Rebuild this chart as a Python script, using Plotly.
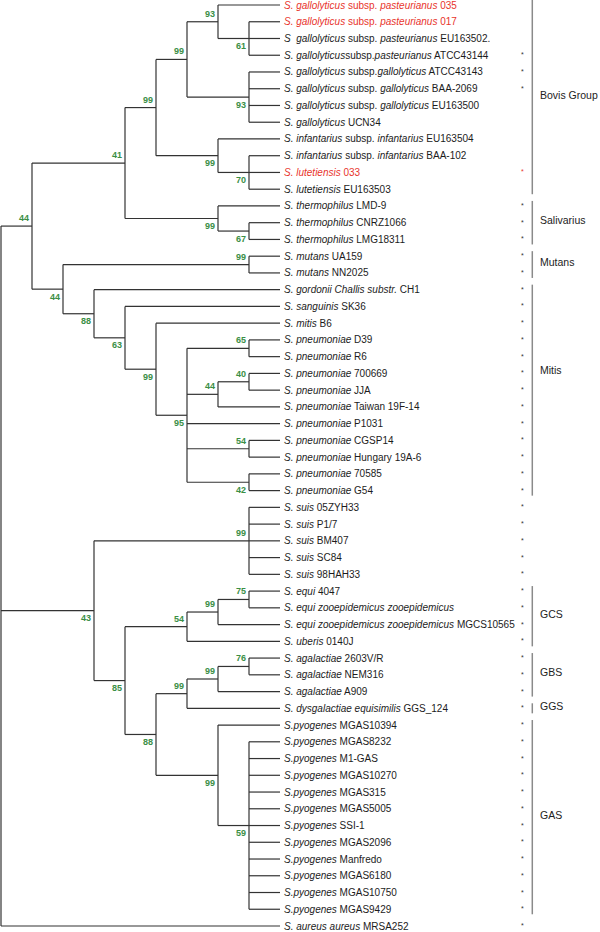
import plotly.graph_objects as go

# ---------------- DATA ----------------
leaf_labels = [
    "<i>S. gallolyticus</i> subsp. <i>pasteurianus</i> 035",
    "<i>S. gallolyticus</i> subsp. <i>pasteurianus</i> 017",
    "<i>S\u00a0 gallolyticus</i> subsp. <i>pasteurianus</i> EU163502.",
    "<i>S. gallolyticus</i>subsp.<i>pasteurianus</i> ATCC43144",
    "<i>S. gallolyticus</i> subsp.<i>gallolyticus</i> ATCC43143",
    "<i>S. gallolyticus</i> subsp. <i>gallolyticus</i> BAA-2069",
    "<i>S. gallolyticus</i> subsp. <i>gallolyticus</i> EU163500",
    "<i>S. gallolyticus</i> UCN34",
    "<i>S. infantarius</i> subsp. <i>infantarius</i> EU163504",
    "<i>S. infantarius</i> subsp. <i>infantarius</i> BAA-102",
    "<i>S. lutetiensis</i> 033",
    "<i>S. lutetiensis</i> EU163503",
    "<i>S. thermophilus</i> LMD-9",
    "<i>S. thermophilus</i> CNRZ1066",
    "<i>S. thermophilus</i> LMG18311",
    "<i>S. mutans</i> UA159",
    "<i>S. mutans</i> NN2025",
    "<i>S. gordonii Challis substr.</i> CH1",
    "<i>S. sanguinis</i> SK36",
    "<i>S. mitis</i> B6",
    "<i>S. pneumoniae</i> D39",
    "<i>S. pneumoniae</i> R6",
    "<i>S. pneumoniae</i> 700669",
    "<i>S. pneumoniae</i> JJA",
    "<i>S. pneumoniae</i> Taiwan 19F-14",
    "<i>S. pneumoniae</i> P1031",
    "<i>S. pneumoniae</i> CGSP14",
    "<i>S. pneumoniae</i> Hungary 19A-6",
    "<i>S. pneumoniae</i> 70585",
    "<i>S. pneumoniae</i> G54",
    "<i>S. suis</i> 05ZYH33",
    "<i>S. suis</i> P1/7",
    "<i>S. suis</i> BM407",
    "<i>S. suis</i> SC84",
    "<i>S. suis</i> 98HAH33",
    "<i>S. equi</i> 4047",
    "<i>S. equi zooepidemicus zooepidemicus</i>",
    "<i>S. equi zooepidemicus zooepidemicus</i> MGCS10565",
    "<i>S. uberis</i> 0140J",
    "<i>S. agalactiae</i> 2603V/R",
    "<i>S. agalactiae</i> NEM316",
    "<i>S. agalactiae</i> A909",
    "<i>S. dysgalactiae equisimilis</i> GGS_124",
    "<i>S.pyogenes</i> MGAS10394",
    "<i>S.pyogenes</i> MGAS8232",
    "<i>S.pyogenes</i> M1-GAS",
    "<i>S.pyogenes</i> MGAS10270",
    "<i>S.pyogenes</i> MGAS315",
    "<i>S.pyogenes</i> MGAS5005",
    "<i>S.pyogenes</i> SSI-1",
    "<i>S.pyogenes</i> MGAS2096",
    "<i>S.pyogenes</i> Manfredo",
    "<i>S.pyogenes</i> MGAS6180",
    "<i>S.pyogenes</i> MGAS10750",
    "<i>S.pyogenes</i> MGAS9429",
    "<i>S. aureus aureus</i> MRSA252",
]

# isolates from this study (highlighted in red)
highlighted = [0, 1, 10]
# leaves marked with an asterisk
asterisk_leaves = [3, 4, 5, 10] + list(range(12, 56))

# tree: (bootstrap, [children]); leaves are indices into leaf_labels
tree = (None, [
    (44, [
        (41, [
            (99, [
                (99, [
                    (93, [0, (61, [1, 2, 3])]),
                    (93, [4, 5, 6, 7]),
                ]),
                (99, [8, (70, [9, 10, 11])]),
            ]),
            (99, [12, (67, [13, 14])]),
        ]),
        (44, [
            (99, [15, 16]),
            (88, [17, (63, [18, (99, [19, (95, [
                (65, [20, 21]),
                (44, [(40, [22, 23]), 24]),
                25,
                (54, [26, 27]),
                (42, [28, 29]),
            ])])])]),
        ]),
    ]),
    (43, [
        (99, [30, 31, 32, 33, 34]),
        (85, [
            (54, [(99, [(75, [35, 36]), 37]), 38]),
            (88, [
                (99, [(99, [(76, [39, 40]), 41]), 42]),
                (99, [43, (59, list(range(44, 55)))]),
            ]),
        ]),
    ]),
    55,
])

group_names = ["Bovis Group", "Salivarius", "Mutans", "Mitis", "GCS", "GBS", "GGS", "GAS"]
group_first = [0, 12, 15, 17, 35, 39, 42, 43]
group_last = [11, 14, 16, 29, 38, 41, 42, 54]

# ---------------- LAYOUT OF THE TREE ----------------
segs_x, segs_y = [], []
boot = []  # (x, y, value, below)


def height(node):
    if isinstance(node, int):
        return 0
    return 1 + max(height(c) for c in node[1])


def layout(node, parent_is_root=False, is_first=True, is_last=False):
    if isinstance(node, int):
        return 9.0, float(node)
    bs, children = node
    xnode = 9.0 - height(node)
    pos = []
    n = len(children)
    for k, c in enumerate(children):
        pos.append(layout(c, bs is None, k == 0, k == n - 1))
    ys = [p[1] for p in pos]
    ynode = (ys[0] + ys[-1]) / 2.0
    segs_x.extend([xnode, xnode, None])
    segs_y.extend([ys[0], ys[-1], None])
    for (cx, cy) in pos:
        segs_x.extend([xnode, cx, None])
        segs_y.extend([cy, cy, None])
    if bs is not None:
        below = is_last or (parent_is_root and not is_first)
        boot.append((xnode, ynode, bs, below))
    return xnode, ynode


layout(tree)

fig = go.Figure()
fig.add_trace(go.Scatter(
    x=segs_x, y=segs_y, mode="lines",
    line=dict(color="#333333", width=1.2),
    hoverinfo="skip", showlegend=False,
))

FONT = "Liberation Sans, Arial, Helvetica, sans-serif"
ann = []
for i, lab in enumerate(leaf_labels):
    col = "#e8342c" if i in highlighted else "#1c1c1c"
    ann.append(dict(x=9, y=i, xref="x", yref="y", text=lab, showarrow=False,
                    xanchor="left", yanchor="middle", xshift=2,
                    font=dict(family=FONT, size=10, color=col)))
for i in asterisk_leaves:
    col = "#e8342c" if i in highlighted else "#333333"
    ann.append(dict(x=522.7 / 600, y=i, xref="paper", yref="y", text="*", showarrow=False,
                    xanchor="center", yanchor="middle", yshift=0.5,
                    font=dict(family=FONT, size=7, color=col)))
for (bx, by, val, below) in boot:
    ann.append(dict(x=bx, y=by, xref="x", yref="y", text="<b>%d</b>" % val, showarrow=False,
                    xanchor="right", yanchor="middle", xshift=-1,
                    yshift=(-7.5 if below else 8),
                    font=dict(family=FONT, size=9, color="#3a8f45")))

shapes = []
label_adjust = {"Mitis": -1.2}
for name, a, b in zip(group_names, group_first, group_last):
    shapes.append(dict(type="line", xref="paper", yref="y",
                       x0=532.3 / 600, x1=532.3 / 600, y0=a - 0.3, y1=b + 0.3,
                       line=dict(color="#8a8a8a", width=1.5)))
    ann.append(dict(x=540 / 600, y=(a + b) / 2.0 + label_adjust.get(name, -0.15),
                    xref="paper", yref="y", text=name, showarrow=False,
                    xanchor="left", yanchor="middle", xshift=-2,
                    font=dict(family=FONT, size=10.5, color="#222222")))

LEAF0 = 5.0
STEP = (926.0 - 5.0) / 55.0
H = 932.0
ytop = -LEAF0 / STEP
ybot = ytop + H / STEP
X0 = 1.0
UNIT = 31.0

fig.update_layout(
    width=600, height=932,
    margin=dict(l=0, r=0, t=0, b=0),
    paper_bgcolor="white", plot_bgcolor="white",
    xaxis=dict(range=[-X0 / UNIT, (600 - X0) / UNIT], visible=False, fixedrange=True),
    yaxis=dict(range=[ybot, ytop], visible=False, fixedrange=True),
    annotations=ann, shapes=shapes,
    showlegend=False,
)

fig.write_html(
    "out.html",
    config={"displayModeBar": False},
    post_script="document.body.style.margin='0';document.body.style.overflow='hidden';",
)
